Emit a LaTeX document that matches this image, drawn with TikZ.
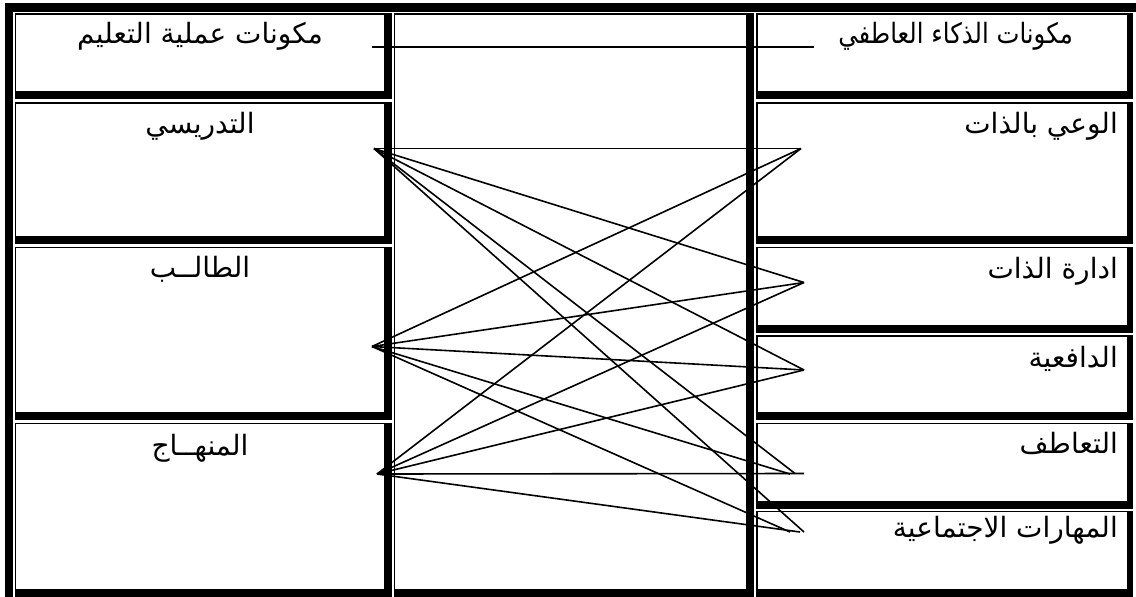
\documentclass[tikz,border=0pt]{standalone}
\usepackage{fontspec}
\newfontfamily\arabicfont[Script=Arabic]{DejaVu Sans}
\TeXXeTstate=1
\newcommand\cellbox[5]{%
  \fill[black] (#1,#2) rectangle (#3,#4);
  \fill[white] ({#1+1.5},{#2+1.5}) rectangle ({#3-#5},{#4-8});
}
\begin{document}
\begin{tikzpicture}[x=1pt,y=-1pt,
  conn/.style={line width=1.6pt, black},
  lab/.style={font=\arabicfont\fontsize{28}{32}\selectfont, inner sep=0pt, text=black},
]
\useasboundingbox (0,0) rectangle (1136,597);
\fill[white] (0,0) rectangle (1136,597);
% outer frame
\fill[black] (5,3) rectangle (1136,12);
\fill[black] (5,3) rectangle (13,597);
% left column
\cellbox{14.5}{13}{392}{99}{8}
\cellbox{14.5}{102}{392}{243.5}{8}
\cellbox{14.5}{246.7}{392}{420}{8}
\cellbox{14.5}{422.5}{392}{597}{8}
% middle column
\cellbox{393.5}{13}{754}{597}{8}
% right column
\cellbox{756}{13}{1133}{99}{6}
\cellbox{756}{102}{1133}{243.5}{6}
\cellbox{756}{246.7}{1133}{333}{6}
\cellbox{756}{335}{1133}{420}{6}
\cellbox{756}{422.5}{1133}{508.5}{6}
\cellbox{756}{510.5}{1133}{597}{6}

% labels
\node[lab, anchor=base] (tL0) at (200,43) {\beginR مكونات عملية التعليم\endR};
\node[lab, anchor=base] (tL1) at (200,133) {\beginR التدريسي\endR};
\node[lab, anchor=base] (tL2) at (200,277) {\beginR الطالــب\endR};
\node[lab, anchor=base] (tL3) at (200,455) {\beginR المنهــاج\endR};
\node[lab, anchor=base east] (tR0) at (1073,43) {\scalebox{0.87}[1]{\beginR مكونات الذكاء العاطفي\endR}};
\node[lab, anchor=base east] (tR1) at (1118,133) {\beginR الوعي بالذات\endR};
\node[lab, anchor=base east] (tR2) at (1118,278) {\beginR ادارة الذات\endR};
\node[lab, anchor=base east] (tR3) at (1118,367) {\beginR الدافعية\endR};
\node[lab, anchor=base east] (tR4) at (1118,453) {\beginR التعاطف\endR};
\node[lab, anchor=base east] (tR5) at (1118,537) {\beginR المهارات الاجتماعية\endR};

% connector end points
\coordinate (hL) at (372,47);
\coordinate (hR) at (814,47);
\coordinate (A) at (374,148.5);
\coordinate (B) at (372,346.5);
\coordinate (C) at (377,474);
\coordinate (r1) at (801,148.5);
\coordinate (r2) at (804,282.5);
\coordinate (r3) at (804,370);
\coordinate (r4) at (804,473.5);
\coordinate (r4a) at (795,473.5);
\coordinate (r4b) at (790,474);
\coordinate (r5) at (804,532);
\coordinate (r5b) at (790,532);
\coordinate (r5c) at (800,532);

% connectors
\draw[conn] (hL) -- (hR);
\draw[conn] (A) -- (r1);
\draw[conn] (A) -- (r2);
\draw[conn] (A) -- (r3);
\draw[conn] (A) -- (r4a);
\draw[conn] (A) -- (r5);
\draw[conn] (B) -- (r1);
\draw[conn] (B) -- (r2);
\draw[conn] (B) -- (r3);
\draw[conn] (B) -- (r4b);
\draw[conn] (B) -- (r5b);
\draw[conn] (C) -- (r1);
\draw[conn] (C) -- (r2);
\draw[conn] (C) -- (r3);
\draw[conn] (C) -- (r4);
\draw[conn] (C) -- (r5c);
\end{tikzpicture}
\end{document}
